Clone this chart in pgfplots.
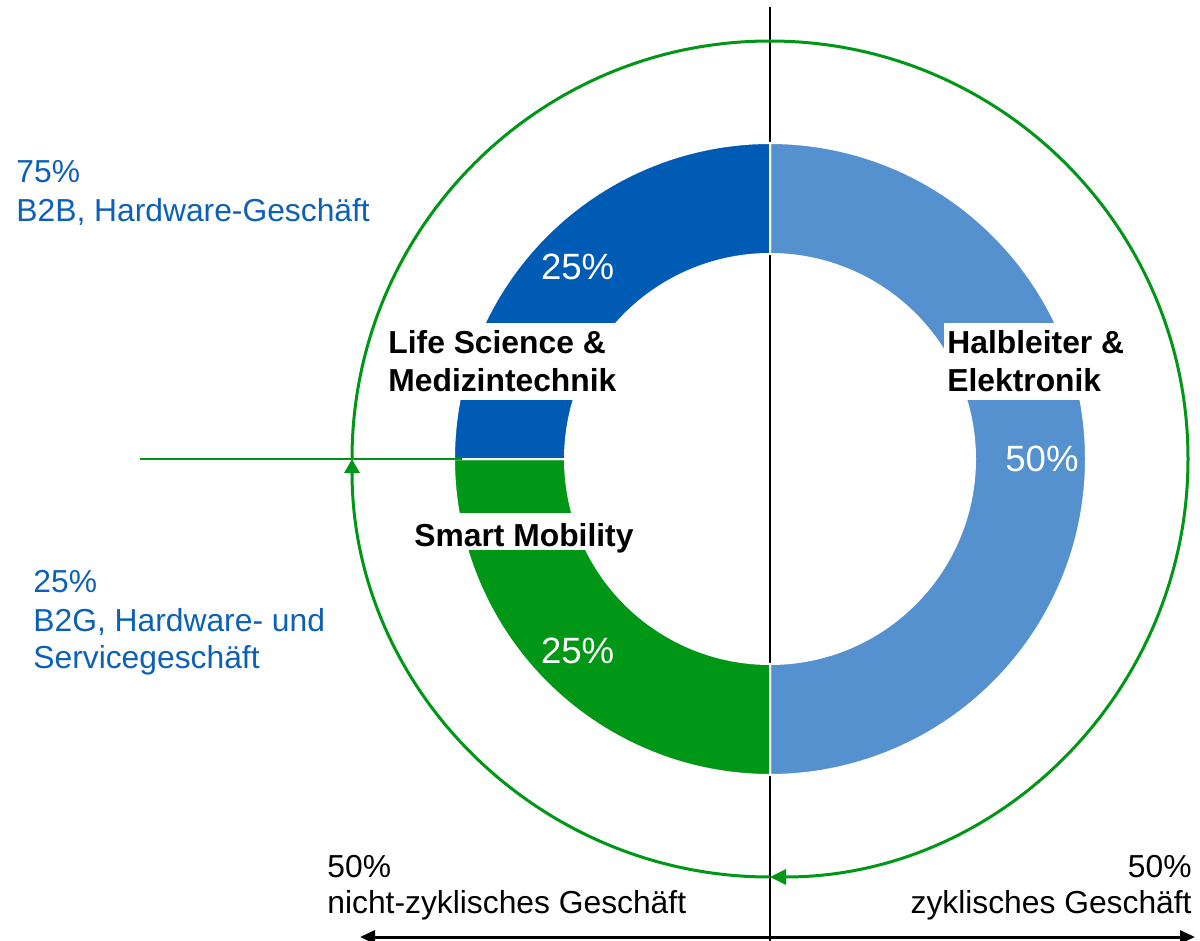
\documentclass[border=0pt]{standalone}
\usepackage{pgfplots}
\pgfplotsset{compat=1.18}
\usepackage{pgfplotstable}
\usepackage{fontspec}
\setmainfont{Liberation Sans}
\usetikzlibrary{arrows.meta}
\definecolor{dblue}{RGB}{0,91,180}
\definecolor{lblue}{RGB}{85,145,207}
\definecolor{sgreen}{RGB}{0,150,22}
\definecolor{tblue}{RGB}{12,96,184}

\pgfplotstableread{
segment value
Halbleiter 50
Mobility 25
Life 25
}\piedata
\def\Ro{158pt}
\def\Ri{102.5pt}
\def\Rw{55.5pt}
\def\Rl{136pt}
\def\Rg{209pt}
\newcommand\txtfont{\fontsize{15.9pt}{19pt}\selectfont}
\newcommand\pctfont{\fontsize{18.3pt}{22pt}\selectfont}

\begin{document}%
\begin{tikzpicture}
\pgfplotstablegetelem{0}{value}\of\piedata \edef\vA{\pgfplotsretval}
\pgfplotstablegetelem{1}{value}\of\piedata \edef\vB{\pgfplotsretval}
\pgfplotstablegetelem{2}{value}\of\piedata \edef\vC{\pgfplotsretval}
\pgfmathsetmacro\aA{90}
\pgfmathsetmacro\aB{\aA-3.6*\vA}
\pgfmathsetmacro\aC{\aB-3.6*\vB}
\pgfmathsetmacro\aD{\aC-3.6*\vC}
\pgfmathsetmacro\mA{(\aA+\aB)/2}
\pgfmathsetmacro\mB{(\aB+\aC)/2}
\pgfmathsetmacro\mC{(\aC+\aD)/2}
\begin{axis}[scale only axis, width=600pt, height=470.5pt,
  xmin=0, xmax=1200, ymin=0, ymax=941, y dir=reverse,
  hide axis, clip=false]
\addplot[draw=none, forget plot] coordinates {(770,459)};
% vertical line
\draw[line width=0.75pt, black] (axis cs:770,7) -- (axis cs:770,941);
% donut segments
\fill[lblue, draw=white, line width=1pt] (axis cs:770,459) ++(\aA:\Ro) arc[start angle=\aA, end angle=\aB, radius=\Ro] -- ++(\aB:-\Rw) arc[start angle=\aB, end angle=\aA, radius=\Ri] -- cycle;
\fill[sgreen, draw=white, line width=1pt] (axis cs:770,459) ++(\aB:\Ro) arc[start angle=\aB, end angle=\aC, radius=\Ro] -- ++(\aC:-\Rw) arc[start angle=\aC, end angle=\aB, radius=\Ri] -- cycle;
\fill[dblue, draw=white, line width=1pt] (axis cs:770,459) ++(\aC:\Ro) arc[start angle=\aC, end angle=\aD, radius=\Ro] -- ++(\aD:-\Rw) arc[start angle=\aD, end angle=\aC, radius=\Ri] -- cycle;
% percentage labels
\path (axis cs:770,459) ++(\mA:\Rl) node[text=white, font=\pctfont, inner sep=0] {\vA\%};
\path (axis cs:770,459) ++(\mB:\Rl) node[text=white, font=\pctfont, inner sep=0] {\vB\%};
\path (axis cs:770,459) ++(\mC:\Rl) node[text=white, font=\pctfont, inner sep=0] {\vC\%};
% green circle arrows
\draw[sgreen, line width=1.5pt, -{Triangle[length=8pt,width=7.5pt]}] (axis cs:770,459) ++(180:\Rg) arc[start angle=180, end angle=-90, radius=\Rg];
\draw[sgreen, line width=1.5pt, -{Triangle[length=7pt,width=7.5pt]}] (axis cs:770,459) ++(-90:\Rg) arc[start angle=-90, end angle=-180, radius=\Rg];
\draw[sgreen, line width=0.7pt] (axis cs:140,459) -- (axis cs:462,459);
% bottom arrow
\draw[line width=1.5pt, {Triangle[length=7.5pt,width=6.5pt]}-{Triangle[length=7.5pt,width=6.5pt]}] (axis cs:360,937) -- (axis cs:1195,937);
% label boxes
\fill[white] (axis cs:385,323) rectangle (axis cs:622,400);
\fill[white] (axis cs:944,323) rectangle (axis cs:1125,400);
\fill[white] (axis cs:410,513) rectangle (axis cs:636,550);
% bold labels
\node[anchor=base west, inner sep=0, font=\txtfont\bfseries] at (axis cs:388,354) {Life Science \&};
\node[anchor=base west, inner sep=0, font=\txtfont\bfseries] at (axis cs:388,392) {Medizintechnik};
\node[anchor=base west, inner sep=0, font=\txtfont\bfseries] at (axis cs:947,354) {Halbleiter \&};
\node[anchor=base west, inner sep=0, font=\txtfont\bfseries] at (axis cs:947,392) {Elektronik};
\node[anchor=base west, inner sep=0, font=\txtfont\bfseries] at (axis cs:414,546) {Smart Mobility};
% blue texts
\node[anchor=base west, inner sep=0, font=\txtfont, text=tblue] at (axis cs:16,183) {75\%};
\node[anchor=base west, inner sep=0, font=\txtfont, text=tblue] at (axis cs:16,222) {B2B, Hardware-Geschäft};
\node[anchor=base west, inner sep=0, font=\txtfont, text=tblue] at (axis cs:33,592) {25\%};
\node[anchor=base west, inner sep=0, font=\txtfont, text=tblue] at (axis cs:33,631) {B2G, Hardware- und};
\node[anchor=base west, inner sep=0, font=\txtfont, text=tblue] at (axis cs:33,668) {Servicegeschäft};
% bottom texts
\node[anchor=base west, inner sep=0, font=\txtfont] at (axis cs:327,877) {50\%};
\node[anchor=base west, inner sep=0, font=\txtfont] at (axis cs:327,913) {nicht-zyklisches Geschäft};
\node[anchor=base east, inner sep=0, font=\txtfont] at (axis cs:1192,877) {50\%};
\node[anchor=base east, inner sep=0, font=\txtfont] at (axis cs:1192,913) {zyklisches Geschäft};
\end{axis}
\pgfresetboundingbox
\path[use as bounding box] (current axis.south west) rectangle (current axis.north east);
\end{tikzpicture}%
\end{document}
